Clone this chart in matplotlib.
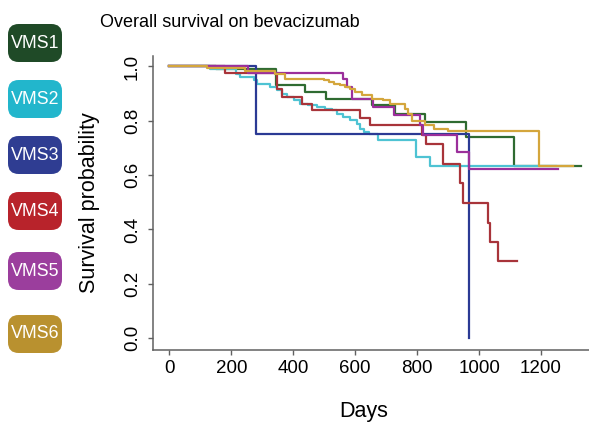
import matplotlib.pyplot as plt
from matplotlib.patches import FancyBboxPatch

plt.rcParams['font.family'] = ['Liberation Sans', 'DejaVu Sans']

# -------------------------------
# Survival data
# -------------------------------
groups = ["VMS1", "VMS2", "VMS3", "VMS4", "VMS5", "VMS6"]

vms1_days = [0, 150, 345, 439, 506, 655, 728, 826, 958, 1114, 1329]
vms1_surv = [1.0, 0.99, 0.930, 0.906, 0.881, 0.857, 0.826, 0.796, 0.741, 0.634, 0.634]

vms2_days = [0, 132, 216, 229, 272, 283, 326, 347, 363, 380, 401, 423, 449, 476,
             503, 524, 541, 562, 584, 605, 616, 627, 643, 675, 795, 840, 1250]
vms2_surv = [1.0, 0.99, 0.973, 0.961, 0.949, 0.937, 0.924, 0.912, 0.900, 0.887, 0.875,
             0.863, 0.857, 0.851, 0.845, 0.839, 0.826, 0.814, 0.802, 0.790, 0.771,
             0.760, 0.750, 0.728, 0.665, 0.634, 0.634]

vms3_days = [0, 280, 968]
vms3_surv = [1.0, 0.75, 0.0]

vms4_days = [0, 180, 347, 363, 428, 460, 616, 648, 815, 830, 885, 937, 948,
             1028, 1035, 1060, 1124]
vms4_surv = [1.0, 0.977, 0.918, 0.887, 0.863, 0.839, 0.812, 0.783, 0.747, 0.713,
             0.641, 0.570, 0.497, 0.425, 0.355, 0.284, 0.284]

vms5_days = [0, 255, 560, 573, 589, 659, 724, 810, 820, 930, 969, 1256]
vms5_surv = [1.0, 0.977, 0.955, 0.924, 0.881, 0.851, 0.820, 0.783, 0.747, 0.686,
             0.624, 0.624]

vms6_days = [0, 122, 245, 342, 374, 498, 515, 530, 552, 568, 584, 600, 621, 653,
             690, 713, 761, 771, 782, 826, 853, 901, 1195, 1304]
vms6_surv = [1.0, 0.993, 0.985, 0.973, 0.955, 0.949, 0.943, 0.937, 0.930, 0.924,
             0.918, 0.906, 0.894, 0.881, 0.875, 0.863, 0.845, 0.826, 0.800, 0.783,
             0.771, 0.761, 0.634, 0.634]

all_days = [vms1_days, vms2_days, vms3_days, vms4_days, vms5_days, vms6_days]
all_surv = [vms1_surv, vms2_surv, vms3_surv, vms4_surv, vms5_surv, vms6_surv]

x_ticks = [0, 200, 400, 600, 800, 1000, 1200]
y_ticks = [0.0, 0.2, 0.4, 0.6, 0.8, 1.0]

line_colors = ["#2f6b31", "#4ec3d3", "#2b3a94", "#a8343a", "#9b2f9b", "#d4a63c"]
box_colors = ["#1f4a27", "#22b6cc", "#2f3d92", "#b8232b", "#9b3e9d", "#b9912f"]
box_centers = [43, 99, 155, 211, 271, 334]  # pixel rows of the labels

# -------------------------------
# Figure
# -------------------------------
W, H = 589, 429
fig = plt.figure(figsize=(W / 100, H / 100), dpi=100)
ax = fig.add_axes([153 / W, (H - 349.5) / H, 436 / W, 293.9 / H])

for days, surv, col in zip(all_days, all_surv, line_colors):
    ax.step(days, surv, where="post", color=col, lw=1.6)

ax.set_xlim(-53, 1355)
ax.set_ylim(-0.042, 1.040)
ax.set_xticks(x_ticks)
ax.set_yticks(y_ticks)
ax.set_xticklabels([str(v) for v in x_ticks])
ax.set_yticklabels(["%.1f" % v for v in y_ticks])

for side in ["top", "right"]:
    ax.spines[side].set_visible(False)
for side in ["left", "bottom"]:
    ax.spines[side].set_color("#606060")
    ax.spines[side].set_linewidth(1.1)

ax.tick_params(axis="both", colors="#606060", length=3.8, width=1.0,
               labelsize=13.5, labelcolor="black")
ax.tick_params(axis="x", pad=3.5)
ax.tick_params(axis="y", pad=5, labelrotation=90)
for lab in ax.get_yticklabels():
    lab.set_va("center")

ax.set_xlabel("Days", fontsize=15.5)
ax.set_ylabel("Survival probability", fontsize=15.5)
ax.xaxis.set_label_coords((364 - 153) / 436, (349.5 - 411.5) / 293.9)
ax.xaxis.label.set_va("center")
ax.yaxis.set_label_coords((90 - 153) / 436, (349.5 - 203) / 293.9)
ax.yaxis.label.set_va("center")

fig.text(100 / W, 1 - 26.7 / H, "Overall survival on bevacizumab",
         fontsize=13, ha="left", va="baseline")

# -------------------------------
# Group label boxes
# -------------------------------
for name, col, cy in zip(groups, box_colors, box_centers):
    box = FancyBboxPatch((8 / W, (H - cy - 19) / H), 54 / W, 38 / H,
                         boxstyle="round,pad=0,rounding_size=0.018",
                         transform=fig.transFigure, facecolor=col,
                         edgecolor="none", mutation_aspect=W / H)
    fig.patches.append(box)
    fig.text(35 / W, 1 - cy / H, name, color="white", fontsize=12.8,
             ha="center", va="center")

fig.savefig("out.png", dpi=100)
plt.close(fig)
